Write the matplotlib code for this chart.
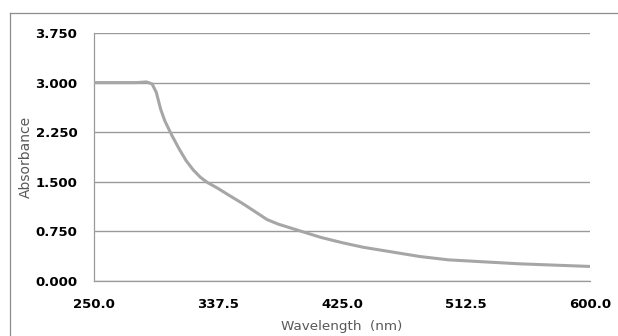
import numpy as np
import matplotlib.pyplot as plt
from matplotlib.lines import Line2D

# absorbance spectrum
wavelength = [250, 280, 287, 291, 294, 297, 300, 305, 310, 315, 320, 325, 330,
              337.5, 345, 355, 365, 372, 380, 395, 410, 425, 440, 460, 480,
              500, 525, 550, 575, 600]
absorbance = [3.0, 3.0, 3.01, 2.98, 2.85, 2.6, 2.42, 2.2, 2.0, 1.82, 1.68, 1.57,
              1.49, 1.40, 1.30, 1.17, 1.03, 0.93, 0.86, 0.76, 0.66, 0.58, 0.51,
              0.44, 0.37, 0.32, 0.29, 0.26, 0.24, 0.22]
x_ticks = [250.0, 337.5, 425.0, 512.5, 600.0]
y_ticks = [0.0, 0.75, 1.5, 2.25, 3.0, 3.75]

plt.rcParams['font.family'] = ['DejaVu Sans']

fig = plt.figure(figsize=(6.18, 3.36), dpi=100)
ax = fig.add_axes([94 / 618, 1 - 281 / 336, 496 / 618, 248 / 336])

# outer chart frame (only top and left edges show)
fig.add_artist(Line2D([10 / 618, 10 / 618], [0, 1 - 13 / 336], color='#8c8c8c', lw=0.9,
                      transform=fig.transFigure))
fig.add_artist(Line2D([10 / 618, 1], [1 - 13 / 336, 1 - 13 / 336], color='#8c8c8c', lw=0.9,
                      transform=fig.transFigure))

ax.plot(wavelength, absorbance, color='#a6a6a6', lw=2.2, solid_capstyle='round', zorder=3)

ax.set_xlim(250, 600)
ax.set_ylim(0, 3.75)
ax.set_xticks(x_ticks)
ax.set_yticks(y_ticks)
ax.set_xticklabels(['%.1f' % v for v in x_ticks], fontweight='bold', fontsize=9.5)
ax.set_yticklabels(['%.3f' % v for v in y_ticks], fontweight='bold', fontsize=9.5)
ax.tick_params(length=0)
ax.tick_params(axis='y', pad=12)
ax.tick_params(axis='x', pad=12)
ax.grid(axis='y', color='#9a9a9a', lw=1.0)
ax.set_axisbelow(True)

for side in ['top', 'right']:
    ax.spines[side].set_visible(False)
for side in ['left', 'bottom']:
    ax.spines[side].set_color('#9a9a9a')
    ax.spines[side].set_linewidth(0.9)

ax.set_ylabel('Absorbance', fontsize=10, color='#595959')
ax.set_xlabel('Wavelength  (nm)', fontsize=9.7, color='#595959', labelpad=7)
ax.yaxis.set_label_coords(-0.123, 0.5)

fig.savefig('out.png', dpi=100)
